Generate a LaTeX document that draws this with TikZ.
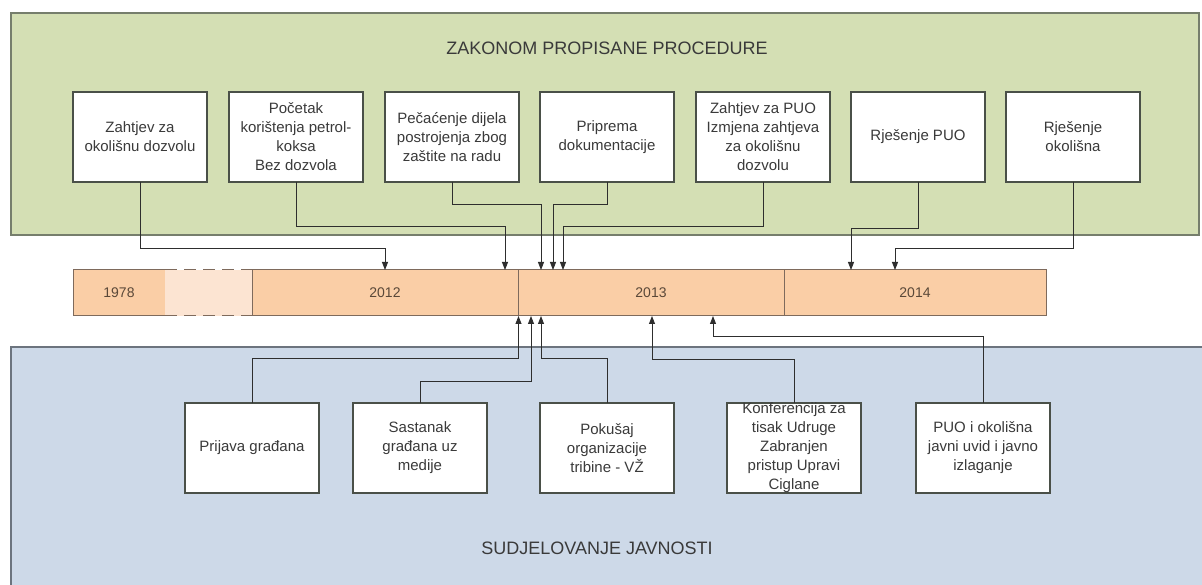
\documentclass[tikz,border=0pt]{standalone}
\usepackage{fontspec}
\setmainfont{Liberation Sans}
\usetikzlibrary{arrows.meta}

\definecolor{greenfill}{HTML}{D4DFB4}
\definecolor{greenline}{HTML}{767E6C}
\definecolor{bluefill}{HTML}{CDD9E8}
\definecolor{blueline}{HTML}{6C747E}
\definecolor{barfill}{HTML}{FACEA6}
\definecolor{gapfill}{HTML}{FCE4D2}
\definecolor{barline}{HTML}{7E6A5C}
\definecolor{boxline}{HTML}{4A5048}
\definecolor{txt}{HTML}{3A3A3A}
\definecolor{yeartxt}{HTML}{5A4838}
\definecolor{wire}{HTML}{2E2E2E}

\begin{document}
\begin{tikzpicture}[x=1pt,y=-1pt,
  panelg/.style={draw=greenline,fill=greenfill,line width=1.4pt,inner sep=0pt,outer sep=0pt},
  panelb/.style={draw=blueline,fill=bluefill,line width=1.4pt,inner sep=0pt,outer sep=0pt},
  paneltitle/.style={font=\fontsize{18}{21}\selectfont,text=txt},
  stepbox/.style={draw=boxline,fill=white,line width=1.1pt,minimum width=134pt,
    minimum height=90pt,inner sep=0pt,outer sep=0pt,align=center,
    font=\fontsize{15}{19}\selectfont,text=txt},
  boxtext/.style={inner sep=0pt,align=center,font=\fontsize{15}{19}\selectfont,text=txt},
  year/.style={draw=barline,fill=barfill,line width=1pt,minimum height=46pt,
    inner sep=0pt,outer sep=0pt,font=\fontsize{14}{16}\selectfont,text=yeartxt},
  conn/.style={draw=wire,line width=0.9pt,-{Triangle[length=8pt,width=6pt]}}
]
\useasboundingbox (0,0) rectangle (1202,585);
\clip (0,0) rectangle (1202,585);
\fill[white] (0,0) rectangle (1202,585);

% background panels
\node[panelg,minimum width=1188pt,minimum height=222pt] (procedures) at (605,124) {};
\node[panelb,minimum width=1204pt,minimum height=260pt] (public) at (613,477) {};
\node[paneltitle] (proctitle) at (607,48) {ZAKONOM PROPISANE PROCEDURE};
\node[paneltitle] (pubtitle) at (597,548) {SUDJELOVANJE JAVNOSTI};

% statutory procedure steps
\node[stepbox] (t1) at (140,137) {Zahtjev za\\okolišnu dozvolu};
\node[stepbox] (t2) at (296,137) {Početak\\korištenja petrol-\\koksa\\Bez dozvola};
\node[stepbox] (t3) at (452,137) {Pečaćenje dijela\\postrojenja zbog\\zaštite na radu};
\node[stepbox] (t4) at (607,137) {Priprema\\dokumentacije};
\node[stepbox] (t5) at (763,137) {Zahtjev za PUO\\Izmjena zahtjeva\\za okolišnu\\dozvolu};
\node[stepbox] (t6) at (918,137) {Rješenje PUO};
\node[stepbox] (t7) at (1073,137) {Rješenje\\okolišna};

% timeline
\node[year,minimum width=92pt] (y1978) at (119,293) {1978};
\node[fill=gapfill,minimum width=87pt,minimum height=46pt,inner sep=0pt,outer sep=0pt] (ygap) at (208.5,293) {};
\draw[barline,line width=1pt,dash pattern=on 12pt off 7pt] (ygap.north west) -- (ygap.north east);
\draw[barline,line width=1pt,dash pattern=on 12pt off 7pt] (ygap.south west) -- (ygap.south east);
\node[year,minimum width=266pt] (y2012) at (385,293) {2012};
\node[year,minimum width=266pt] (y2013) at (651,293) {2013};
\node[year,minimum width=262pt] (y2014) at (915,293) {2014};

% public participation events
\node[stepbox] (b1) at (252,448) {Prijava građana};
\node[stepbox] (b2) at (420,448) {Sastanak\\građana uz\\medije};
\node[stepbox] (b3) at (607,448) {Pokušaj\\organizacije\\tribine - VŽ};
\node[stepbox] (b4) at (794,448) {};
\node[boxtext] (b4text) at (b4) {Konferencija za\\tisak Udruge\\Zabranjen\\pristup Upravi\\Ciglane};
\node[stepbox] (b5) at (983,448) {PUO i okolišna\\javni uvid i javno\\izlaganje};

% connectors from procedures down to the timeline
\draw[conn] (t1.south) -- ++(0,66) -| ([xshift=133pt]y2012.north west);
\draw[conn] (t2.south) -- ++(0,44) -| ([xshift=253pt]y2012.north west);
\draw[conn] (t3.south) -- ++(0,22) -| ([xshift=23pt]y2013.north west);
\draw[conn] (t4.south) -- ++(0,22) -| ([xshift=35pt]y2013.north west);
\draw[conn] (t5.south) -- ++(0,44) -| ([xshift=45pt]y2013.north west);
\draw[conn] (t6.south) -- ++(0,46) -| ([xshift=67pt]y2014.north west);
\draw[conn] (t7.south) -- ++(0,66) -| ([xshift=111pt]y2014.north west);

% connectors from public events up to the timeline
\draw[conn] (b1.north) -- ++(0,-45) -| ([xshift=0.5pt]y2013.south west);
\draw[conn] (b2.north) -- ++(0,-22) -| ([xshift=13pt]y2013.south west);
\draw[conn] (b3.north) -- ++(0,-45) -| ([xshift=23pt]y2013.south west);
\draw[conn] (b4.north) -- ++(0,-44) -| ([xshift=134pt]y2013.south west);
\draw[conn] (b5.north) -- ++(0,-67) -| ([xshift=195pt]y2013.south west);
\end{tikzpicture}
\end{document}
